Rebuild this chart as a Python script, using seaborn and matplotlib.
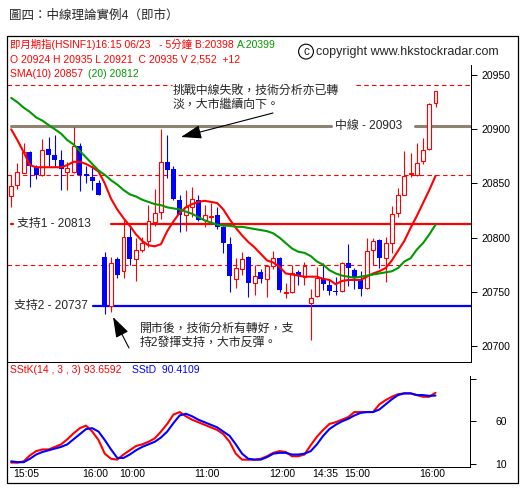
import numpy as np
import pandas as pd
import seaborn as sns
import matplotlib
matplotlib.use("Agg")
import matplotlib.pyplot as plt
from matplotlib.patches import Rectangle, FancyArrowPatch
from matplotlib.transforms import ScaledTranslation

# %% data (5 min bars)
open_ = [20838, 20849, 20860, 20879, 20865, 20858, 20882, 20876, 20872, 20861,
         20861, 20885, 20859, 20856, 20850, 20782, 20737, 20780, 20769, 20801,
         20780, 20789, 20797, 20814, 20824, 20870, 20863, 20835, 20821, 20828,
         20835, 20816, 20819, 20821, 20810, 20794, 20762, 20771, 20782, 20758,
         20768, 20762, 20774, 20781, 20749, 20750, 20768, 20764, 20740, 20746,
         20762, 20756, 20751, 20751, 20777, 20770, 20762, 20754, 20789, 20798,
         20781, 20795, 20823, 20839, 20859, 20858, 20871, 20882, 20924]
high = [20858, 20869, 20887, 20880, 20867, 20891, 20893, 20895, 20881, 20870,
        20902, 20887, 20866, 20866, 20853, 20787, 20782, 20782, 20816, 20810,
        20800, 20801, 20830, 20845, 20900, 20895, 20866, 20839, 20844, 20847,
        20839, 20830, 20832, 20828, 20811, 20801, 20781, 20787, 20783, 20775,
        20771, 20775, 20788, 20782, 20758, 20775, 20770, 20778, 20753, 20773,
        20777, 20761, 20764, 20778, 20794, 20772, 20769, 20800, 20800, 20799,
        20801, 20829, 20846, 20880, 20878, 20887, 20892, 20924, 20935]
low = [20828, 20845, 20860, 20847, 20854, 20857, 20866, 20865, 20844, 20844,
       20860, 20843, 20850, 20844, 20839, 20730, 20731, 20763, 20763, 20775,
       20760, 20787, 20791, 20811, 20817, 20855, 20835, 20805, 20806, 20819,
       20815, 20810, 20813, 20808, 20786, 20750, 20754, 20766, 20745, 20747,
       20758, 20745, 20771, 20750, 20744, 20749, 20756, 20756, 20706, 20745,
       20752, 20747, 20747, 20750, 20755, 20753, 20746, 20753, 20775, 20772,
       20759, 20786, 20819, 20839, 20856, 20857, 20868, 20881, 20921]
close = [20848, 20861, 20879, 20866, 20858, 20881, 20876, 20872, 20863, 20864,
         20885, 20858, 20857, 20852, 20839, 20737, 20777, 20766, 20801, 20780,
         20789, 20795, 20815, 20823, 20870, 20862, 20836, 20821, 20828, 20836,
         20816, 20821, 20820, 20810, 20795, 20765, 20772, 20780, 20758, 20765,
         20762, 20774, 20781, 20752, 20750, 20767, 20765, 20774, 20744, 20763,
         20757, 20751, 20750, 20777, 20772, 20764, 20753, 20788, 20797, 20781,
         20795, 20822, 20839, 20857, 20860, 20869, 20881, 20923, 20935]

sma10 = [20900, 20890, 20879, 20867, 20865, 20865, 20865, 20865, 20865, 20867,
         20870, 20870, 20868, 20865, 20861, 20850, 20836, 20826, 20818, 20811,
         20803, 20797, 20793, 20792, 20794, 20806, 20815, 20823, 20828, 20831,
         20833, 20834, 20833, 20832, 20826, 20817, 20809, 20802, 20796, 20791,
         20785, 20779, 20777, 20773, 20767, 20766, 20765, 20764, 20764, 20764,
         20762, 20761, 20757, 20760, 20761, 20761, 20761, 20764, 20767, 20769,
         20772, 20779, 20788, 20797, 20809, 20820, 20832, 20844, 20857]
sma20 = [20929, 20925, 20920, 20916, 20911, 20908, 20904, 20900, 20896, 20890,
         20886, 20880, 20874, 20868, 20862, 20858, 20853, 20849, 20844, 20840,
         20838, 20835, 20833, 20831, 20830, 20828, 20827, 20826, 20824, 20822,
         20819, 20816, 20814, 20812, 20811, 20811, 20810, 20810, 20809, 20808,
         20807, 20806, 20804, 20800, 20795, 20790, 20787, 20786, 20783, 20778,
         20775, 20770, 20767, 20765, 20764, 20763, 20764, 20765, 20766, 20767,
         20768, 20769, 20772, 20778, 20781, 20789, 20795, 20803, 20812]

sstk = [11.5, 11.5, 13, 20, 25, 27, 27, 30, 33, 39,
        46, 52, 55, 48, 38, 22, 16, 15, 21, 26,
        31, 33, 36, 40, 48, 57, 68, 71, 66, 62,
        59, 56, 53, 50, 45, 36, 22, 15, 15, 15,
        16, 19, 23, 25, 24, 19, 19, 21, 32, 42,
        50, 57, 59, 62, 65, 71, 71, 71, 71, 80,
        85, 89, 92, 93, 93, 91, 89, 89, 93.66]
sstd = [13, 12, 12, 16, 21, 24, 26, 28, 30, 33,
        39, 45, 51, 52, 48, 38, 27, 17, 17, 21,
        26, 30, 33, 36, 41, 48, 58, 67, 69, 66,
        62, 59, 56, 53, 48, 43, 33, 22, 16, 15,
        15, 18, 22, 23, 23, 21, 21, 22, 25, 33,
        43, 51, 56, 60, 63, 67, 70, 71, 71, 74,
        80, 86, 91, 93, 93, 91, 91, 90, 90.41]

tick_pos = [0, 11, 17, 29, 41, 48, 53, 65]
tick_labels = ["15:05", "16:00", "10:00", "11:00", "12:00", "14:35", "15:00", "16:00"]
price_ticks = [20700, 20750, 20800, 20850, 20900, 20950]
stoch_ticks = [10, 60, 110]

mid_line = 20903
support1 = 20813
support2 = 20737
dash_levels = [20941, 20858, 20775]

# %% figure setup
sns.set_style("white")
plt.rcParams["font.family"] = ["Liberation Sans", "Noto Sans CJK TC", "DejaVu Sans"]

W, H = 532, 492
fig = plt.figure(figsize=(W / 100, H / 100), dpi=100)

def fx(x):
    return x / W

def fy(y):
    return 1 - y / H

def px(x, y):
    return (fx(x), fy(y))

ax = fig.add_axes([fx(7), fy(362.4), fx(470.5) - fx(7), fy(64.5) - fy(362.4)])
ax2 = fig.add_axes([fx(10.2), fy(467.2), fx(470) - fx(10.2), fy(375.6) - fy(467.2)])

RED, BLUE, GREEN = "#ff0000", "#0000ff", "#009a00"

# %% candles
df = pd.DataFrame(dict(t=np.arange(len(close)), o=open_, h=high, l=low, c=close))
df["up"] = df.c >= df.o
df["bot"] = df[["o", "c"]].min(axis=1)
df["size"] = (df.c - df.o).abs().clip(lower=0.6)

ax.vlines(df.t, df.l, df.h, colors=np.where(df.up, RED, BLUE), lw=0.8, zorder=3)
up = df[df.up]
dn = df[~df.up]
ax.bar(up.t, up["size"], bottom=up.bot, width=0.62, facecolor="white",
       edgecolor=RED, lw=0.8, zorder=4)
ax.bar(dn.t, dn["size"], bottom=dn.bot, width=0.8, color=BLUE, lw=0, zorder=4)

# moving averages
sns.lineplot(x=df.t, y=sma10, ax=ax, color=RED, lw=1.5, zorder=5)
sns.lineplot(x=df.t, y=sma20, ax=ax, color=GREEN, lw=1.5, zorder=5)

# reference lines
for i, lvl in enumerate(dash_levels):
    if i == 0:
        ax.axhline(lvl, xmin=0, xmax=0.356, color=RED, lw=0.8, ls=(0, (4, 3)), zorder=1)
        ax.axhline(lvl, xmin=0.754, xmax=1, color=RED, lw=0.8, ls=(0, (4, 3)), zorder=1)
    else:
        ax.axhline(lvl, color=RED, lw=0.8, ls=(0, (4, 3)), zorder=1)

ax.axhline(mid_line, xmin=0.009, xmax=0.699, color="#8c8470", lw=2.2, zorder=2)
ax.axhline(mid_line, xmin=0.880, xmax=1, color="#8c8470", lw=2.2, zorder=2)
ax.axhline(support1, xmin=0.224, xmax=1, color=RED, lw=1.6, zorder=2)
ax.axhline(support1, xmin=0.009, xmax=0.014, color=RED, lw=1.6, zorder=2)
ax.axhline(support2, xmin=0.186, xmax=1, color=BLUE, lw=1.6, zorder=2)

ax.set_xlim(-0.67, 73.6)
ax.set_ylim(20684.9, 20959.8)
ax.set_xticks([])
ax.set_yticks(price_ticks)
ax.yaxis.tick_right()
ax.tick_params(axis="y", direction="out", length=4.1, width=0.72, pad=3.8,
               labelsize=7.5, colors="black")
ax.set_xlabel("")
ax.set_ylabel("")
for s in ["left", "top"]:
    ax.spines[s].set_visible(False)
for s in ["right", "bottom"]:
    ax.spines[s].set_color("black")
    ax.spines[s].set_linewidth(0.72)

# %% stochastic
st = pd.DataFrame(dict(t=np.arange(len(sstk)), k=sstk, d=sstd))
sns.lineplot(data=st, x="t", y="k", ax=ax2, color=RED, lw=1.5)
sns.lineplot(data=st, x="t", y="d", ax=ax2, color=BLUE, lw=1.5)
ax2.set_xlim(-0.16, 73.53)
ax2.set_ylim(6.1, 113.9)
ax2.set_xlabel("")
ax2.set_ylabel("")
ax2.set_yticks(stoch_ticks)
ax2.set_yticklabels(["10", "60", ""])
ax2.yaxis.tick_right()
ax2.tick_params(axis="y", direction="out", length=4.1, width=0.72, pad=13.9,
                labelsize=7.5, colors="black")
ax2.set_xticks(tick_pos)
ax2.set_xticklabels(tick_labels)
ax2.tick_params(axis="x", direction="out", length=8.6, width=0.72, pad=-7.2,
                labelsize=7.5, colors="black")
shift = ScaledTranslation(2 / 100, 0, fig.dpi_scale_trans)
for lab in ax2.get_xticklabels():
    lab.set_ha("left")
    lab.set_transform(lab.get_transform() + shift)
for s in ["left", "top"]:
    ax2.spines[s].set_visible(False)
for s in ["right", "bottom"]:
    ax2.spines[s].set_color("black")
    ax2.spines[s].set_linewidth(0.72)

# %% texts
hs = 7.5
fig.text(*px(8.5, 16), "圖四：中線理論實例4（即市）", fontsize=9, va="center")
fig.text(*px(9.5, 45), "即月期指(HSINF1)16:15 06/23   - 5分鐘 B:20398", color=RED,
         fontsize=hs, va="center")
fig.text(*px(236.5, 45), "A:20399", color=GREEN, fontsize=hs, va="center")
fig.text(*px(9.5, 59), "O 20924 H 20935 L 20921  C 20935 V 2,552  +12", color=RED,
         fontsize=hs, va="center")
fig.text(*px(9.5, 74), "SMA(10) 20857", color=RED, fontsize=hs, va="center")
fig.text(*px(88, 74), "(20) 20812", color=GREEN, fontsize=hs, va="center")
fig.text(*px(306, 51.6), "c", fontsize=8.5, ha="center", va="center",
         bbox=dict(boxstyle="circle,pad=0.12", fc="none", ec="black", lw=0.8))
fig.text(*px(316.5, 51.6), "copyright www.hkstockradar.com", fontsize=9, va="center")
fig.text(*px(9.5, 370), "SStK(14 , 3 , 3) 93.6592", color=RED, fontsize=hs, va="center")
fig.text(*px(132.3, 370), "SStD  90.4109", color=BLUE, fontsize=hs, va="center")

fig.text(*px(335, 125.5), "中線 - 20903", fontsize=8.6, va="center")
fig.text(*px(17.3, 224), "支持1 - 20813", fontsize=8.6, va="center")
fig.text(*px(14, 306), "支持2 - 20737", fontsize=8.6, va="center")
fig.text(*px(173, 98), "挑戰中線失敗，技術分析亦已轉\n淡，大市繼續向下。", fontsize=8.6,
         va="center", linespacing=1.2)
fig.text(*px(140, 336), "開市後，技術分析有轉好，支\n持2發揮支持，大市反彈。", fontsize=8.6,
         va="center", linespacing=1.2)

arrow = dict(arrowstyle="-|>,head_length=0.9,head_width=0.3", color="black", lw=0.8,
             mutation_scale=14, shrinkA=0, shrinkB=0)
fig.add_artist(FancyArrowPatch(px(273, 113), px(181, 137),
                               transform=fig.transFigure, **arrow))
fig.add_artist(FancyArrowPatch(px(129, 348), px(113, 317),
                               transform=fig.transFigure, **arrow))

# outer frame
fig.add_artist(Rectangle(px(6.8, 482.5), fx(518) - fx(6.8), fy(35.6) - fy(482.5),
                         transform=fig.transFigure, fill=False, lw=0.9, ec="black"))

fig.savefig("out.png", dpi=100)
